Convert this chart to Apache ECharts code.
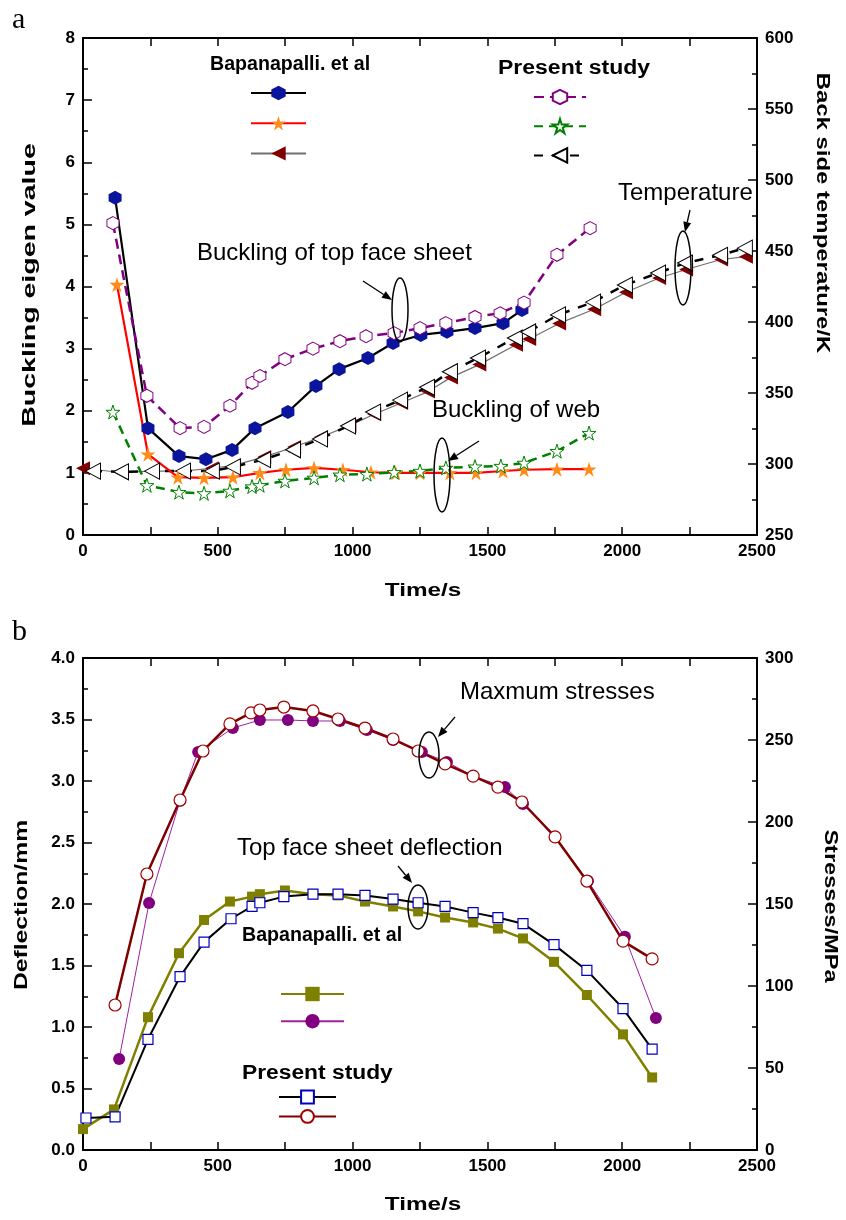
<!DOCTYPE html>
<html>
<head>
<meta charset="utf-8">
<script src="https://cdn.jsdelivr.net/npm/echarts@6/dist/echarts.min.js"></script>
<style>
  html, body { margin: 0; padding: 0; background: #fff; }
  #chart { width: 846px; height: 1220px; }
</style>
</head>
<body>
<div id="chart"></div>
<script>
// ---- data (a): buckling eigen values ----
const bapTopT = [119, 241, 356, 456, 553, 638, 760, 864, 950, 1057, 1150, 1253, 1350, 1454, 1558, 1628]
const bapTopV = [5.43, 1.72, 1.27, 1.22, 1.37, 1.72, 1.98, 2.40, 2.67, 2.85, 3.09, 3.22, 3.27, 3.33, 3.41, 3.62]
const preTopT = [111, 237, 360, 449, 545, 627, 656, 749, 853, 953, 1050, 1154, 1250, 1346, 1454, 1547, 1636, 1758, 1881]
const preTopV = [5.02, 2.24, 1.72, 1.74, 2.08, 2.45, 2.56, 2.83, 3.00, 3.12, 3.20, 3.25, 3.33, 3.41, 3.51, 3.57, 3.74, 4.51, 4.94]
const bapWebT = [126, 241, 352, 449, 556, 656, 753, 857, 964, 1068, 1160, 1250, 1361, 1458, 1558, 1636, 1758, 1877]
const bapWebV = [4.03, 1.30, 0.93, 0.92, 0.93, 1.00, 1.05, 1.08, 1.05, 1.01, 1.00, 1.00, 1.00, 1.00, 1.03, 1.05, 1.06, 1.06]
const preWebT = [111, 237, 356, 449, 545, 627, 656, 749, 857, 953, 1053, 1154, 1250, 1346, 1454, 1550, 1636, 1758, 1877]
const preWebV = [1.98, 0.80, 0.69, 0.67, 0.71, 0.78, 0.80, 0.87, 0.92, 0.97, 0.98, 1.01, 1.03, 1.08, 1.10, 1.11, 1.16, 1.35, 1.64]
const bapTempT = [0, 141, 256, 371, 478, 560, 672, 783, 883, 988, 1080, 1180, 1280, 1365, 1470, 1606, 1655, 1766, 1896, 2014, 2137, 2237, 2367, 2459]
const bapTempK = [297, 294, 295, 295, 297, 299, 305, 312, 319, 327, 335, 343, 351, 361, 370, 384, 388, 399, 409, 421, 431, 437, 444, 446]
const preTempT = [37, 141, 256, 371, 478, 556, 668, 779, 879, 983, 1076, 1176, 1276, 1361, 1465, 1602, 1651, 1762, 1892, 2010, 2133, 2233, 2363, 2455]
const preTempK = [295, 294.5, 295, 295, 295, 298, 303, 310, 317.6, 326.8, 336.6, 345, 354, 365, 374.6, 388.7, 393, 405, 414, 426, 434.5, 441.5, 447, 452]

// ---- data (b): deflection and stresses ----
const bapDefT = [0, 115, 241, 356, 449, 545, 627, 656, 749, 853, 946, 1046, 1150, 1243, 1343, 1447, 1539, 1632, 1747, 1869, 2003, 2111]
const bapDefV = [0.17, 0.33, 1.08, 1.60, 1.87, 2.02, 2.06, 2.08, 2.11, 2.08, 2.07, 2.02, 1.98, 1.94, 1.89, 1.85, 1.80, 1.72, 1.53, 1.26, 0.94, 0.59]
const preDefT = [11, 119, 241, 360, 449, 549, 627, 656, 745, 853, 946, 1046, 1150, 1243, 1343, 1447, 1539, 1632, 1747, 1869, 2003, 2111]
const preDefV = [0.26, 0.27, 0.90, 1.41, 1.69, 1.88, 1.98, 2.01, 2.06, 2.08, 2.08, 2.07, 2.04, 2.01, 1.98, 1.93, 1.89, 1.84, 1.67, 1.46, 1.15, 0.82]
const bapStrT = [134, 245, 360, 427, 556, 656, 760, 853, 953, 1053, 1150, 1257, 1350, 1447, 1565, 1632, 1751, 1873, 2010, 2125]
const bapStrV = [55.5, 150.6, 213, 242.7, 257.3, 262.2, 262.2, 261.6, 261.6, 256.1, 250, 242.7, 236.6, 228, 221.3, 211, 190.9, 164, 130, 80.5]
const preStrT = [119, 237, 360, 445, 545, 623, 656, 745, 853, 946, 1046, 1150, 1243, 1343, 1447, 1539, 1628, 1751, 1869, 2003, 2111]
const preStrV = [88.4, 168.3, 213.4, 243.3, 259.8, 266.5, 268.3, 270.1, 267.7, 262.8, 257.3, 250.6, 243.3, 235.4, 228, 221.3, 212.2, 190.9, 164, 127.4, 116.5]

const font = '"Liberation Sans", Arial, sans-serif'
const hexagon = 'path://M0,-1 L0.866,-0.5 L0.866,0.5 L0,1 L-0.866,0.5 L-0.866,-0.5 Z'
const star = 'path://M0,-1 L0.2245,-0.309 L0.951,-0.309 L0.363,0.118 L0.588,0.809 L0,0.382 L-0.588,0.809 L-0.363,0.118 L-0.951,-0.309 L-0.2245,-0.309 Z'
const leftTri = 'path://M-1,0 L1,-1 L1,1 Z'

function zip(xs, ys) {
  return xs.map((x, i) => [x, ys[i]])
}

function xAxisDef(grid, top) {
  return {
    type: 'value', gridIndex: grid, position: top ? 'top' : 'bottom',
    min: 0, max: 2500, interval: 500,
    axisLine: { show: true, onZero: false, lineStyle: { color: '#000', width: 2 } },
    axisTick: { show: true, inside: true, length: 8, lineStyle: { color: '#000', width: 1.5 } },
    minorTick: { show: true, splitNumber: 2, length: 8, lineStyle: { color: '#000', width: 1.5 } },
    axisLabel: { show: !top, color: '#000', fontFamily: font, fontWeight: 'bold', fontSize: 17, margin: 8,
      formatter: v => String(v) },
    splitLine: { show: false }
  }
}

function yAxisDef(grid, right, min, max, step, fmt) {
  return {
    type: 'value', gridIndex: grid, position: right ? 'right' : 'left',
    min: min, max: max, interval: step,
    axisLine: { show: true, onZero: false, lineStyle: { color: '#000', width: 2 } },
    axisTick: { show: true, inside: true, length: 9, lineStyle: { color: '#000', width: 1.5 } },
    minorTick: { show: true, splitNumber: 2, length: 5, lineStyle: { color: '#000', width: 1.5 } },
    axisLabel: { color: '#000', fontFamily: font, fontWeight: 'bold', fontSize: 17, margin: 8,
      formatter: fmt || (v => String(v)) },
    splitLine: { show: false }
  }
}

function arrow(x1, y1, x2, y2) {
  const a = Math.atan2(y2 - y1, x2 - x1)
  const L = 10, W = 4
  const bx = x2 - L * Math.cos(a), by = y2 - L * Math.sin(a)
  const px = -Math.sin(a) * W, py = Math.cos(a) * W
  return [
    { type: 'line', z: 50, shape: { x1: x1, y1: y1, x2: bx, y2: by }, style: { stroke: '#000', lineWidth: 1.3 } },
    { type: 'polygon', z: 50, shape: { points: [[x2, y2], [bx + px, by + py], [bx - px, by - py]] }, style: { fill: '#000' } }
  ]
}

function ellipse(cx, cy, rx, ry) {
  return { type: 'ellipse', z: 50, shape: { cx: cx, cy: cy, rx: rx, ry: ry }, style: { fill: 'none', stroke: '#000', lineWidth: 1.5 } }
}

// text in the picture is a little stretched along its run, hence sx
function label(text, x, y, size, bold, rot, align, sx) {
  return {
    type: 'text', z: 50, x: x, y: y, rotation: rot || 0, scaleX: sx || 1,
    style: {
      text: text, fill: '#000', font: (bold ? 'bold ' : '') + size + 'px ' + font,
      textAlign: align || 'left', textVerticalAlign: 'middle'
    }
  }
}

const chart = echarts.init(document.getElementById('chart'))

const option = {
  backgroundColor: '#fff',
  animation: false,
  grid: [
    { left: 83, top: 38, width: 674, height: 497 },
    { left: 83, top: 658, width: 674, height: 492 }
  ],
  xAxis: [xAxisDef(0, false), xAxisDef(0, true), xAxisDef(1, false), xAxisDef(1, true)],
  yAxis: [
    yAxisDef(0, false, 0, 8, 1),
    yAxisDef(0, true, 250, 600, 50),
    yAxisDef(1, false, 0, 4, 0.5, v => v.toFixed(1)),
    yAxisDef(1, true, 0, 300, 50)
  ],
  legend: [
    { left: 245, top: 79, orient: 'vertical', itemWidth: 55, itemHeight: 18, itemGap: 14, formatter: () => '',
      data: ['bapTop', 'bapWeb', 'bapTemp'] },
    { left: 528, top: 83, orient: 'vertical', itemWidth: 52, itemHeight: 18, itemGap: 12, formatter: () => '',
      data: ['preTop', 'preWeb', 'preTemp'] },
    { left: 275, top: 980, orient: 'vertical', itemWidth: 63, itemHeight: 18, itemGap: 11, formatter: () => '',
      data: ['bapDef', 'bapStr'] },
    { left: 273, top: 1084, orient: 'vertical', itemWidth: 57, itemHeight: 16, itemGap: 4, formatter: () => '',
      data: ['preDef', 'preStr'] }
  ],
  series: [
    // (a) temperature, right axis
    { name: 'bapTemp', type: 'line', xAxisIndex: 0, yAxisIndex: 1, data: zip(bapTempT, bapTempK),
      symbol: leftTri, symbolSize: [14, 14], itemStyle: { color: '#800000' },
      lineStyle: { color: '#707070', width: 1.2 } },
    { name: 'preTemp', type: 'line', xAxisIndex: 0, yAxisIndex: 1, data: zip(preTempT, preTempK),
      symbol: leftTri, symbolSize: [15, 16], itemStyle: { color: '#fff', borderColor: '#000', borderWidth: 1 },
      lineStyle: { color: '#000', width: 2.5, type: [9, 9] } },
    // (a) buckling
    { name: 'bapWeb', type: 'line', xAxisIndex: 0, yAxisIndex: 0, data: zip(bapWebT, bapWebV),
      symbol: star, symbolSize: 15, itemStyle: { color: '#ff8c1a' },
      lineStyle: { color: '#ff0000', width: 2.2 } },
    { name: 'preWeb', type: 'line', xAxisIndex: 0, yAxisIndex: 0, data: zip(preWebT, preWebV),
      symbol: star, symbolSize: 14, itemStyle: { color: '#fff', borderColor: '#008000', borderWidth: 1 },
      lineStyle: { color: '#008000', width: 2.5, type: [9, 6] } },
    { name: 'bapTop', type: 'line', xAxisIndex: 0, yAxisIndex: 0, data: zip(bapTopT, bapTopV),
      symbol: hexagon, symbolSize: [13, 14], itemStyle: { color: '#0a149c' },
      lineStyle: { color: '#000', width: 2.2 } },
    { name: 'preTop', type: 'line', xAxisIndex: 0, yAxisIndex: 0, data: zip(preTopT, preTopV),
      symbol: hexagon, symbolSize: [12, 13], itemStyle: { color: '#fff', borderColor: '#800080', borderWidth: 1 },
      lineStyle: { color: '#800080', width: 2.5, type: [10, 6] } },
    // (b) stresses, right axis
    { name: 'bapStr', type: 'line', xAxisIndex: 2, yAxisIndex: 3, data: zip(bapStrT, bapStrV),
      symbol: 'circle', symbolSize: 12, itemStyle: { color: '#800080' },
      lineStyle: { color: '#a020a0', width: 1 } },
    { name: 'preStr', type: 'line', xAxisIndex: 2, yAxisIndex: 3, data: zip(preStrT, preStrV),
      symbol: 'circle', symbolSize: 12, itemStyle: { color: '#fff', borderColor: '#a00000', borderWidth: 1.2 },
      lineStyle: { color: '#800000', width: 2.5 } },
    // (b) deflection
    { name: 'bapDef', type: 'line', xAxisIndex: 2, yAxisIndex: 2, data: zip(bapDefT, bapDefV),
      symbol: 'rect', symbolSize: 10, itemStyle: { color: '#808000' },
      lineStyle: { color: '#808000', width: 2.5 } },
    { name: 'preDef', type: 'line', xAxisIndex: 2, yAxisIndex: 2, data: zip(preDefT, preDefV),
      symbol: 'rect', symbolSize: 10, itemStyle: { color: '#fff', borderColor: '#0000c0', borderWidth: 1.2 },
      lineStyle: { color: '#000', width: 2 } }
  ],
  graphic: [
    { type: 'text', z: 50, x: 12, y: 20, style: { text: 'a', fill: '#000', font: '30px "Liberation Serif", serif', textVerticalAlign: 'middle' } },
    { type: 'text', z: 50, x: 12, y: 632, style: { text: 'b', fill: '#000', font: '30px "Liberation Serif", serif', textVerticalAlign: 'middle' } },
    // axis titles
    label('Buckling eigen value', 30, 285, 19, true, Math.PI / 2, 'center', 1.5),
    label('Back side temperature/K', 822, 213, 19, true, -Math.PI / 2, 'center', 1.26),
    label('Time/s', 423, 591, 18, true, 0, 'center', 1.35),
    label('Deflection/mm', 22, 905, 19, true, Math.PI / 2, 'center', 1.3),
    label('Stresses/MPa', 830, 906, 19, true, -Math.PI / 2, 'center', 1.24),
    label('Time/s', 423, 1205, 18, true, 0, 'center', 1.35),
    // legend headings
    label('Bapanapalli. et al', 210, 65, 19.6, true),
    label('Present study', 498, 68, 20, true, 0, 'left', 1.15),
    label('Bapanapalli. et al', 242, 936, 19.6, true),
    label('Present study', 242, 1073, 20, true, 0, 'left', 1.14),
    // annotations (a)
    label('Buckling of top face sheet', 197, 253, 24, false),
    ...arrow(363, 281, 392, 300),
    ellipse(400, 310, 8, 32),
    label('Temperature', 618, 193, 24, false),
    ...arrow(690, 210, 685, 232),
    ellipse(683, 268, 8, 37),
    label('Buckling of web', 432, 410, 24, false),
    ...arrow(479, 441, 448, 461),
    ellipse(442, 475, 8, 37),
    // annotations (b)
    label('Maxmum stresses', 460, 692, 24, false),
    ...arrow(455, 717, 438, 737),
    ellipse(429, 755, 10, 23),
    label('Top face sheet deflection', 237, 848, 24, false),
    ...arrow(398, 866, 412, 883),
    ellipse(418, 907, 10, 22)
  ]
}

chart.setOption(option)
</script>
</body>
</html>
